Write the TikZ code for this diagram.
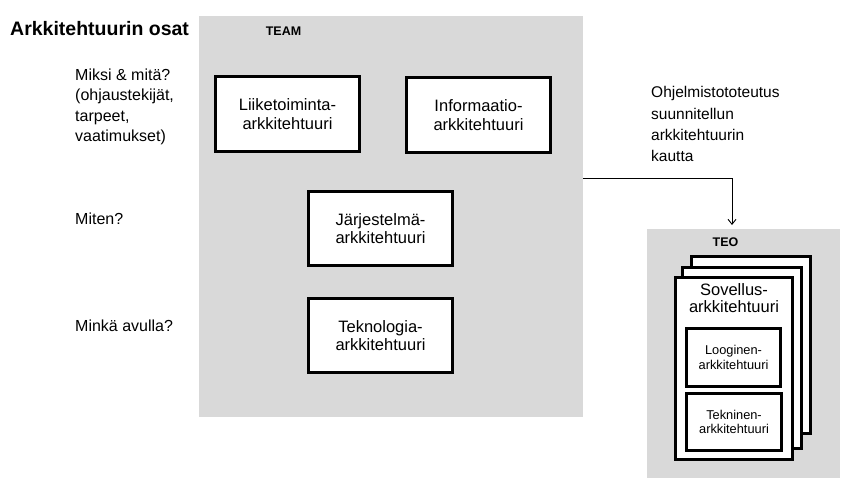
\documentclass[tikz,border=0pt]{standalone}
\usepackage{fontspec}
\setmainfont{Liberation Sans}
\usetikzlibrary{arrows.meta}
\definecolor{panelgray}{RGB}{217,217,217}
\tikzset{
  panel/.style={fill=panelgray, draw=none, inner sep=0pt},
  archbox/.style={draw=black, line width=3pt, fill=white, inner sep=0pt, align=center,
    font=\fontsize{16.5}{18.5}\selectfont},
  smallbox/.style={draw=black, line width=3pt, fill=white, inner sep=0pt, align=center,
    font=\fontsize{12.8}{14.5}\selectfont},
  paneltitle/.style={font=\fontsize{12.5}{14}\selectfont\bfseries, inner sep=0pt, anchor=base},
  sidetext/.style={font=\fontsize{16}{20.5}\selectfont, align=left, inner sep=0pt},
  conn/.style={line width=0.9pt, -{Straight Barb[length=5pt,width=8pt]}}
}
\begin{document}
\begin{tikzpicture}[x=1pt,y=-1pt]
\useasboundingbox (0,0) rectangle (856,492);

% title
\node[font=\fontsize{19.5}{22}\selectfont\bfseries, inner sep=0pt, anchor=base west] (title) at (10,36) {Arkkitehtuurin osat};

% TEAM panel
\node[panel, minimum width=384pt, minimum height=401pt] (team) at (391,216.5) {};
\node[paneltitle] (teamlbl) at (283.5,36) {TEAM};

\node[archbox, minimum width=144pt, minimum height=75pt] (liike) at (287.5,114) {Liiketoiminta-\\arkkitehtuuri};
\node[archbox, minimum width=144pt, minimum height=75pt] (info) at (478.5,115) {Informaatio-\\arkkitehtuuri};
\node[archbox, minimum width=144pt, minimum height=74pt] (jarj) at (380.5,228.5) {Järjestelmä-\\arkkitehtuuri};
\node[archbox, minimum width=144pt, minimum height=74pt] (tekno) at (380.5,335.5) {Teknologia-\\arkkitehtuuri};

% side texts
\node[sidetext, anchor=north west] (miksi) at (75,68.3) {Miksi \& mitä?\\(ohjaustekijät,\\tarpeet,\\vaatimukset)};
\node[sidetext, anchor=base west] (miten) at (75,224) {Miten?};
\node[sidetext, anchor=base west] (minka) at (75,331) {Minkä avulla?};

\node[font=\fontsize{15.5}{21.3}\selectfont, align=left, inner sep=0pt, anchor=north west] (toteutus) at (651,86.5) {Ohjelmistototeutus\\suunnitellun\\arkkitehtuurin\\kautta};

% TEO panel
\node[panel, minimum width=193pt, minimum height=249pt] (teo) at (743.5,353) {};
\node[paneltitle] (teolbl) at (725.5,246) {TEO};

\node[archbox, minimum width=119pt, minimum height=177pt] (back) at (751,345) {};
\node[archbox, minimum width=119pt, minimum height=181pt] (middle) at (742,358) {};
\node[archbox, minimum width=117pt, minimum height=182pt] (front) at (734,368.5) {};
\node[font=\fontsize{16.5}{17.5}\selectfont, align=center, inner sep=0pt, anchor=north] (sovellus) at (734,283) {Sovellus-\\arkkitehtuuri};
\node[smallbox, minimum width=94pt, minimum height=58pt] (looginen) at (733.5,357.5) {Looginen-\\arkkitehtuuri};
\node[smallbox, minimum width=95pt, minimum height=57pt] (tekninen) at (734,422) {Tekninen-\\arkkitehtuuri};

% connector
\coordinate (arrowend) at (732,225);
\draw[conn] (team.east |- 0,178) -| (arrowend);
\end{tikzpicture}
\end{document}
